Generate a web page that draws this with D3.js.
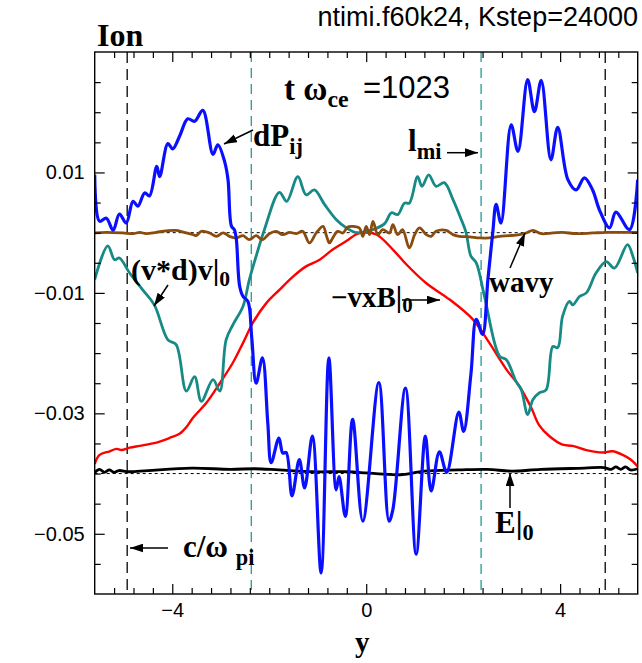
<!DOCTYPE html>
<html>
<head>
<meta charset="utf-8">
<script src="https://cdn.jsdelivr.net/npm/d3@7"></script>
<style>
  body { margin: 0; background: #fff; }
</style>
</head>
<body>
<div id="chart"></div>
<script>
// ---- data ----
var blueX = [-5.6,-5.5,-5.36,-5.22,-5.09,-4.95,-4.81,-4.71,-4.57,-4.47,-4.32,-4.26,-4.09,-3.99,-3.85,-3.68,-3.54,-3.37,-3.16,-3.06,
    -2.92,-2.85,-2.78,-2.72,-2.68,-2.61,-2.54,-2.44,-2.36,-2.27,-2.14,-2.03,-1.96,-1.8,-1.72,-1.65,-1.53,-1.38,-1.27,-1.11,
    -0.93,-0.77,-0.62,-0.56,-0.43,-0.28,-0.07,0.26,0.47,0.55,0.81,1.03,1.22,1.34,1.51,1.66,1.91,2.01,2.16,2.27,
    2.4,2.51,2.61,2.68,2.78,2.99,3.13,3.33,3.47,3.61,3.81,3.95,4.16,4.33,4.5,4.67,4.81,5.02,5.15,5.43,5.6];
var blueV = [0.0096,0.0019,0.0024,0.0004,0.0031,0.0016,0.0052,0.0044,0.0066,0.0061,0.0110,0.0093,0.0148,0.0139,0.0160,0.0189,0.0185,0.0203,0.0130,0.0146,
    0.0118,0.0088,0.0011,0.0005,-0.0010,-0.0089,-0.0106,-0.0114,-0.0175,-0.0250,-0.0208,-0.0316,-0.0382,-0.0341,-0.0366,-0.0365,-0.0437,-0.0377,-0.0424,-0.0338,
    -0.0565,-0.0208,-0.0427,-0.0405,-0.0471,-0.0310,-0.0479,-0.0249,-0.0479,-0.0460,-0.0258,-0.0534,-0.0338,-0.0429,-0.0364,-0.0398,-0.0298,-0.0330,-0.0235,-0.0144,
    -0.0169,-0.0078,0.0000,0.0047,0.0016,0.0179,0.0135,0.0254,0.0201,0.0253,0.0121,0.0175,0.0088,0.0071,0.0091,0.0071,0.0038,0.0008,0.0034,0.0005,0.0088];

var tealX = [-5.6,-5.33,-5.19,-5.09,-4.88,-4.61,-4.37,-4.09,-3.92,-3.71,-3.54,-3.4,-3.16,-3.02,-2.89,-2.75,-2.54,-2.41,-2.27,-2.1,
    -1.79,-1.64,-1.41,-1.24,-1.07,-0.86,-0.62,-0.41,-0.2,0,0.14,0.38,0.52,0.65,0.79,0.89,1.06,1.15,1.29,1.44,
    1.61,1.79,1.96,2.06,2.16,2.27,2.44,2.75,2.89,3.09,3.2,3.33,3.44,3.57,3.71,3.85,3.95,4.05,4.19,4.26,
    4.4,4.54,4.74,4.95,5.12,5.39,5.5,5.6];
var tealV = [-0.0078,-0.0022,-0.0045,-0.0042,-0.0067,-0.0095,-0.0120,-0.0178,-0.0186,-0.0263,-0.0239,-0.0280,-0.0244,-0.0263,-0.0178,-0.0153,-0.0122,-0.0078,-0.0039,0.0005,
    0.0067,0.0052,0.0093,0.0063,0.0071,0.0047,0.0022,0.0008,0.0000,0.0002,0.0005,0.0015,0.0033,0.0030,0.0049,0.0049,0.0093,0.0077,0.0096,0.0077,
    0.0083,0.0055,0.0022,0.0000,-0.0039,-0.0050,-0.0106,-0.0205,-0.0211,-0.0247,-0.0261,-0.0302,-0.0277,-0.0266,-0.0261,-0.0189,-0.0191,-0.0139,-0.0114,-0.0120,
    -0.0106,-0.0100,-0.0067,-0.0048,-0.0059,-0.0020,-0.0039,-0.0067];

var redX = [-5.6,-5.5,-5.29,-5.15,-5.05,-4.88,-4.67,-4.4,-4.23,-4.06,-3.85,-3.71,-3.58,-3.3,-3.02,-2.75,-2.54,-2.34,-2.06,-1.79,
    -1.51,-1.24,-0.96,-0.69,-0.41,-0.21,-0.07,0.21,0.55,0.82,1.24,1.72,2.2,2.54,2.89,3.16,3.4,3.57,3.78,4.05,
    4.26,4.54,4.88,5.08,5.29,5.46,5.6];
var redV = [-0.0384,-0.0369,-0.0363,-0.0359,-0.0361,-0.0357,-0.0354,-0.0350,-0.0346,-0.0341,-0.0334,-0.0323,-0.0308,-0.0283,-0.0250,-0.0216,-0.0183,-0.0150,-0.0117,-0.0095,
    -0.0073,-0.0056,-0.0045,-0.0028,-0.0014,-0.0003,0.0000,-0.0003,-0.0028,-0.0052,-0.0084,-0.0111,-0.0144,-0.0183,-0.0227,-0.0255,-0.0290,-0.0320,-0.0338,-0.0352,
    -0.0354,-0.0361,-0.0365,-0.0363,-0.0369,-0.0377,-0.0388];

var blackX = [-5.6,-5.5,-5.4,-5.3,-5.2,-5.1,-4.9,-4.5,-3.6,-2.8,-2.3,-1.8,-1.1,-0.4,0.0,0.35,0.7,1.2,1.9,2.5,
    3.0,3.6,4.5,4.9,5.05,5.15,5.25,5.35,5.45,5.6];
var blackV = [-0.0398,-0.0393,-0.0398,-0.0394,-0.0398,-0.0395,-0.0397,-0.0395,-0.0391,-0.0393,-0.0392,-0.0394,-0.0397,-0.0397,-0.0399,-0.0401,-0.0402,-0.0396,-0.0394,-0.0393,
    -0.0396,-0.0393,-0.0391,-0.0390,-0.0393,-0.0389,-0.0393,-0.0389,-0.0394,-0.0392];

var brownX = [-5.6,-5.36,-5.02,-4.81,-4.67,-4.54,-4.33,-4.12,-3.92,-3.71,-3.58,-3.51,-3.4,-3.23,-3.09,-2.95,-2.82,-2.68,-2.54,-2.41,
    -2.27,-2.14,-2.0,-1.86,-1.72,-1.58,-1.44,-1.31,-1.17,-1.03,-0.89,-0.82,-0.76,-0.69,-0.59,-0.48,-0.38,-0.28,-0.14,-0.07,
    0.0,0.07,0.14,0.24,0.34,0.48,0.55,0.65,0.75,0.89,1.0,1.1,1.24,1.34,1.44,1.65,1.79,1.92,2.13,2.34,
    2.54,2.75,2.95,3.16,3.3,3.44,3.61,3.85,4.05,4.33,4.67,4.95,5.36,5.6];
var brownV = [-0.00005,0.00005,-0.00005,-0.00017,0.00005,-0.00017,0.00005,0.0003,0.00038,-0.00005,-0.0003,-0.0005,0.00022,-0.00005,-0.00061,-0.00005,-0.00061,-0.00088,-0.0005,-0.00116,
    -0.0005,-0.00116,-0.00017,0.00022,-0.00033,0.00005,-0.00017,0.00022,-0.00171,-0.00005,0.00105,-0.0005,-0.00171,-0.00088,0.00022,-0.00005,0.00095,0.00105,0.00078,-0.00061,
    0.00105,-0.00033,0.00188,-0.00033,0.0005,-0.00005,0.00133,-0.00033,0.0005,-0.00254,-0.00033,0.00078,-0.00033,-0.00061,0.00022,0.00038,-0.00033,-0.00061,-0.0007,-0.00088,
    -0.00088,-0.00061,-0.0005,-0.00033,-0.00005,0.00038,-0.00017,-0.00005,0.00005,-0.00017,-0.00005,0.00005,0.00005,0.00005];

var cLines = [-4.93, 4.93];      // c/omega_pi markers
var lLines = [-2.37, 2.37];      // l_mi markers
var refLevels = [0, -0.04];      // dotted reference levels

var xMajor = [-4, 0, 4];
var xTickLabels = ["\u22124", "0", "4"];
var xMinor = [-5.2,-4.8,-4.4,-3.6,-3.2,-2.8,-2.4,-2,-1.6,-1.2,-0.8,-0.4,0.4,0.8,1.2,1.6,2,2.4,2.8,3.2,3.6,4.4,4.8,5.2];
var yMajor = [0.01, -0.01, -0.03, -0.05];
var yTickLabels = ["0.01", "\u22120.01", "\u22120.03", "\u22120.05"];
var yMinor = [0.025,0.02,0.015,0.005,0,-0.005,-0.015,-0.02,-0.025,-0.035,-0.04,-0.045,-0.055];

// ---- drawing ----
var W = 642, H = 663;
var plotL = 94.7, plotR = 637.7, plotT = 52, plotB = 594;

var svg = d3.select("#chart").append("svg")
    .attr("width", W)
    .attr("height", H);

var x = d3.scaleLinear().domain([-5.6, 5.6]).range([plotL, plotR]);
var y = d3.scaleLinear().domain([-0.06, 0.03]).range([plotB, plotT]);

var defs = svg.append("defs");
defs.append("clipPath").attr("id", "plotclip")
    .append("rect")
    .attr("x", plotL).attr("y", plotT)
    .attr("width", plotR - plotL).attr("height", plotB - plotT);

var marker = defs.append("marker")
    .attr("id", "arrow")
    .attr("markerUnits", "userSpaceOnUse")
    .attr("viewBox", "0 0 12 8")
    .attr("refX", 12).attr("refY", 4)
    .attr("markerWidth", 13).attr("markerHeight", 9)
    .attr("orient", "auto");
marker.append("path").attr("d", "M0,0 L12,4 L0,8 Z").attr("fill", "#000");

var plot = svg.append("g").attr("clip-path", "url(#plotclip)");

// dotted reference lines
plot.selectAll(".ref")
    .data(refLevels)
    .enter().append("line")
    .attr("x1", plotL).attr("x2", plotR)
    .attr("y1", function (d) { return y(d); })
    .attr("y2", function (d) { return y(d); })
    .attr("stroke", "#000")
    .attr("stroke-width", 1)
    .attr("stroke-dasharray", "3,3");

// vertical dashed markers
plot.selectAll(".cl")
    .data(cLines)
    .enter().append("line")
    .attr("x1", function (d) { return x(d); })
    .attr("x2", function (d) { return x(d); })
    .attr("y1", plotT).attr("y2", plotB)
    .attr("stroke", "#000")
    .attr("stroke-width", 1.3)
    .attr("stroke-dasharray", "11,6");

plot.selectAll(".ll")
    .data(lLines)
    .enter().append("line")
    .attr("x1", function (d) { return x(d); })
    .attr("x2", function (d) { return x(d); })
    .attr("y1", plotT).attr("y2", plotB)
    .attr("stroke", "#1f9c95")
    .attr("stroke-width", 1.3)
    .attr("stroke-dasharray", "10,6");

var line = d3.line()
    .curve(d3.curveCatmullRom.alpha(0.5))
    .x(function (d) { return x(d[0]); })
    .y(function (d) { return y(d[1]); });

var series = [
    {xs: redX,   vs: redV,   color: "#ff0000", w: 2.4},
    {xs: blackX, vs: blackV, color: "#000000", w: 2.8},
    {xs: tealX,  vs: tealV,  color: "#178a86", w: 2.8},
    {xs: brownX, vs: brownV, color: "#8a4b0f", w: 2.8},
    {xs: blueX,  vs: blueV,  color: "#0a10ff", w: 3.2}
];

plot.selectAll(".curve")
    .data(series)
    .enter().append("path")
    .attr("class", "curve")
    .attr("fill", "none")
    .attr("stroke", function (d) { return d.color; })
    .attr("stroke-width", function (d) { return d.w; })
    .attr("stroke-linejoin", "round")
    .attr("d", function (d) {
        return line(d.xs.map(function (v, i) { return [v, d.vs[i]]; }));
    });

// ---- axes (ticks point inward, on all four sides) ----
function styleAxis(g) {
    g.select(".domain").remove();
    g.selectAll(".tick line").attr("stroke", "#000").attr("stroke-width", 1.2);
    g.selectAll("text")
        .style("font-family", "'Liberation Sans', Arial, sans-serif")
        .style("font-size", "20px")
        .attr("fill", "#000");
}

svg.append("g").attr("transform", "translate(0," + plotB + ")")
    .call(d3.axisBottom(x).tickValues(xMinor).tickSize(-6).tickFormat(""))
    .call(styleAxis);
svg.append("g").attr("transform", "translate(0," + plotB + ")")
    .call(d3.axisBottom(x).tickValues(xMajor).tickSize(-10).tickPadding(9)
        .tickFormat(function (d, i) { return xTickLabels[i]; }))
    .call(styleAxis);
svg.append("g").attr("transform", "translate(0," + plotT + ")")
    .call(d3.axisTop(x).tickValues(xMinor).tickSize(-6).tickFormat(""))
    .call(styleAxis);
svg.append("g").attr("transform", "translate(0," + plotT + ")")
    .call(d3.axisTop(x).tickValues(xMajor).tickSize(-10).tickFormat(""))
    .call(styleAxis);

svg.append("g").attr("transform", "translate(" + plotL + ",0)")
    .call(d3.axisLeft(y).tickValues(yMinor).tickSize(-6).tickFormat(""))
    .call(styleAxis);
svg.append("g").attr("transform", "translate(" + plotL + ",0)")
    .call(d3.axisLeft(y).tickValues(yMajor).tickSize(-10).tickPadding(10)
        .tickFormat(function (d, i) { return yTickLabels[i]; }))
    .call(styleAxis);
svg.append("g").attr("transform", "translate(" + plotR + ",0)")
    .call(d3.axisRight(y).tickValues(yMinor).tickSize(-6).tickFormat(""))
    .call(styleAxis);
svg.append("g").attr("transform", "translate(" + plotR + ",0)")
    .call(d3.axisRight(y).tickValues(yMajor).tickSize(-10).tickFormat(""))
    .call(styleAxis);

svg.append("rect")
    .attr("x", plotL).attr("y", plotT)
    .attr("width", plotR - plotL).attr("height", plotB - plotT)
    .attr("fill", "none")
    .attr("stroke", "#000")
    .attr("stroke-width", 1.4);

// ---- texts ----
var serif = "'Liberation Serif', 'Times New Roman', serif";
var sans = "'Liberation Sans', Arial, sans-serif";

function richLabel(px, py, parts, size, font) {
    var t = svg.append("text")
        .attr("x", px).attr("y", py)
        .style("font-family", font || serif)
        .style("font-weight", "bold")
        .style("font-size", size + "px")
        .attr("fill", "#000");
    var shift = 0;
    parts.forEach(function (p) {
        var dy = (p.sub ? p.sub : 0) - shift;
        shift = p.sub ? p.sub : 0;
        t.append("tspan")
            .attr("dy", dy)
            .style("font-size", (p.sub ? size * 0.72 : size) + "px")
            .text(p.t);
    });
    return t;
}

richLabel(97, 46, [{t: "Ion"}], 32);

svg.append("text")
    .attr("x", 638).attr("y", 26)
    .attr("text-anchor", "end")
    .style("font-family", sans)
    .style("font-size", "27px")
    .text("ntimi.f60k24, Kstep=24000");

richLabel(284, 100, [{t: "t \u03c9"}, {t: "ce", sub: 7}], 33);
svg.append("text")
    .attr("x", 363).attr("y", 98)
    .style("font-family", sans)
    .style("font-size", "31px")
    .text("=1023");

richLabel(253, 146, [{t: "dP"}, {t: "ij", sub: 8}], 31);
richLabel(408, 151, [{t: "l"}, {t: "mi", sub: 8}], 31);
richLabel(131, 280, [{t: "(v*d)v|"}, {t: "0", sub: 6}], 30);
richLabel(489, 292, [{t: "wavy"}], 29);
richLabel(331, 307, [{t: "\u2212vxB|"}, {t: "0", sub: 5}], 29);
richLabel(495, 533, [{t: "E|"}, {t: "0", sub: 7}], 31);
richLabel(183, 557, [{t: "c/\u03c9 "}, {t: "pi", sub: 8}], 31);

richLabel(355, 652, [{t: "y"}], 29);

// ---- arrows ----
var arrows = [
    [253, 130, 224, 144],
    [447, 152.7, 478, 152.7],
    [168, 285, 154, 306],
    [510, 268, 525, 233],
    [402, 300, 440, 300],
    [510, 508, 510, 473],
    [168, 548, 130, 548]
];
svg.selectAll(".arrow")
    .data(arrows)
    .enter().append("line")
    .attr("x1", function (d) { return d[0]; })
    .attr("y1", function (d) { return d[1]; })
    .attr("x2", function (d) { return d[2]; })
    .attr("y2", function (d) { return d[3]; })
    .attr("stroke", "#000")
    .attr("stroke-width", 1.5)
    .attr("marker-end", "url(#arrow)");
</script>
</body>
</html>
